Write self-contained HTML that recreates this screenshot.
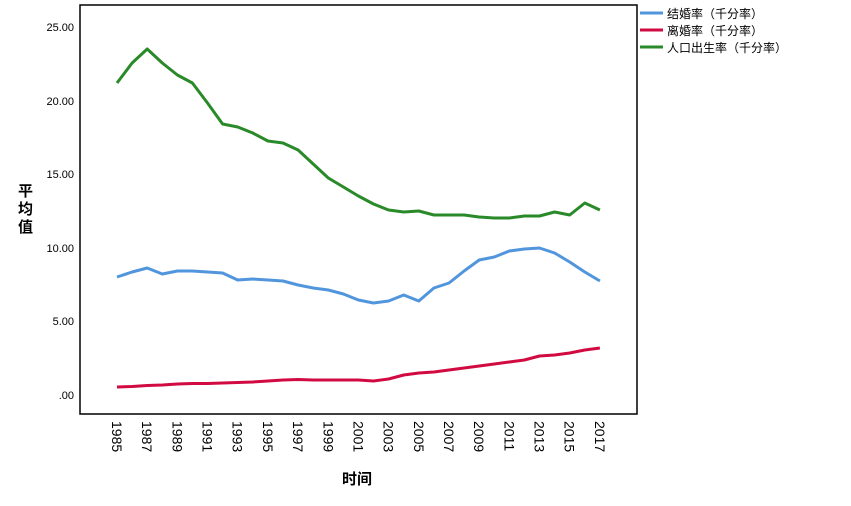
<!DOCTYPE html>
<html><head><meta charset="utf-8"><style>
body{margin:0;background:#fff;width:851px;height:501px;overflow:hidden}
text{font-family:"Liberation Sans","Noto Sans CJK SC",sans-serif}
</style></head><body>
<svg width="851" height="501" xmlns="http://www.w3.org/2000/svg">
<rect x="80" y="5" width="557" height="409" fill="#fff" stroke="#000" stroke-width="1.5"/>
<g font-size="11" text-anchor="end" fill="#000">
<text x="74" y="31">25.00</text><text x="74" y="105">20.00</text><text x="74" y="178">15.00</text>
<text x="74" y="252">10.00</text><text x="74" y="325">5.00</text><text x="74" y="399">.00</text>
</g>
<g id="xl" font-size="14" fill="#000"></g>
<text font-family="Noto Serif CJK SC,serif" font-size="15" font-weight="bold" x="18" y="196">平</text>
<text font-family="Noto Serif CJK SC,serif" font-size="15" font-weight="bold" x="18" y="214">均</text>
<text font-family="Noto Serif CJK SC,serif" font-size="15" font-weight="bold" x="18" y="232">值</text>
<text font-family="Noto Serif CJK SC,serif" font-size="15" font-weight="bold" x="342" y="484">时间</text>
<g id="lines" fill="none" stroke-width="3" stroke-linejoin="round"></g>
<line x1="640" y1="13" x2="663" y2="13" stroke="#5196dd" stroke-width="3"/>
<line x1="640" y1="30" x2="663" y2="30" stroke="#d10b42" stroke-width="3"/>
<line x1="640" y1="47" x2="663" y2="47" stroke="#2a8a2a" stroke-width="3"/>
<g font-size="12" fill="#000">
<text x="667" y="18">结婚率（千分率）</text>
<text x="667" y="35">离婚率（千分率）</text>
<text x="667" y="52">人口出生率（千分率）</text>
</g>
</svg>
<script>
var g=[83,63,49,63,75,83,103,124,127,133,141,143,150,164,178,187,196,204,210,212,211,215,215,215,217,218,218,216,216,212,215,203,210];
var b=[277,272,268,274,271,271,272,273,280,279,280,281,285,288,290,294,300,303,301,295,301,288,283,271,260,257,251,249,248,253,262,272,281];
var r=[387,386.5,385.5,385,384,383.5,383.5,383,382.5,382,381,380,379.5,380,380,380,380,381,379,375,373,372,370,368,366,364,362,360,356,355,353,350,348];
function p(a,c){var d=a.map(function(y,i){return (i?'L':'M')+(117+15.09*i).toFixed(1)+' '+y}).join('');
var e=document.createElementNS('http://www.w3.org/2000/svg','path');e.setAttribute('d',d);e.setAttribute('stroke',c);document.getElementById('lines').appendChild(e);}
p(g,'#2a8a2a');p(b,'#5196dd');p(r,'#d10b42');
var xl=document.getElementById('xl');
for(var i=0;i<=32;i+=2){var t=document.createElementNS('http://www.w3.org/2000/svg','text');var x=117+15.09*i-5;
t.setAttribute('transform','translate('+x+',421) rotate(90)');t.textContent=1985+i;xl.appendChild(t);}
</script>
</body></html>
